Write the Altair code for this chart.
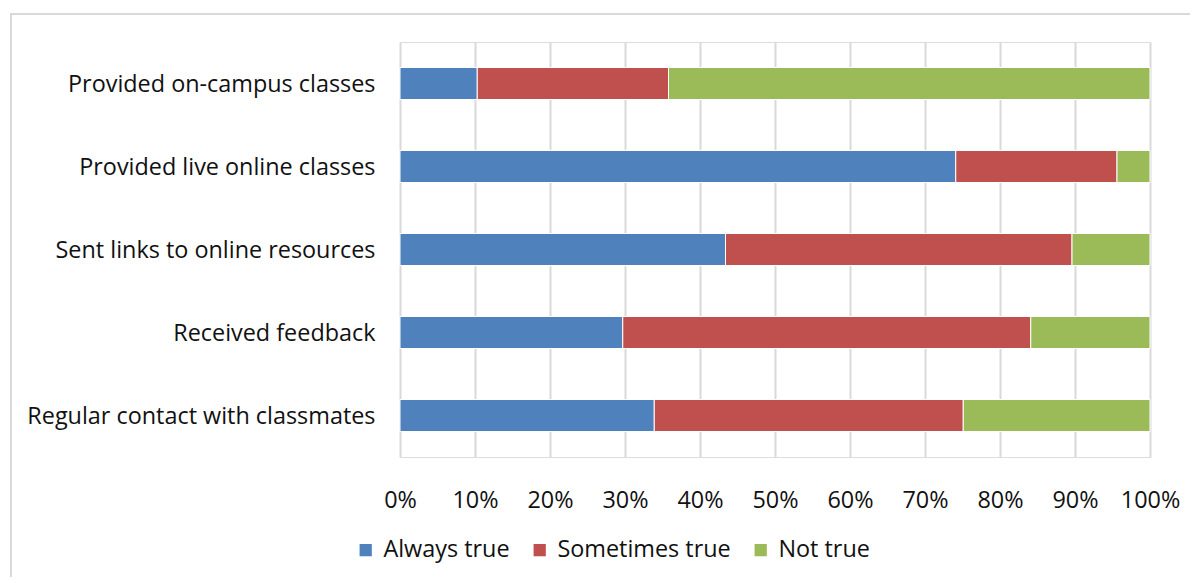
import altair as alt
import pandas as pd

categories = [
    "Provided on-campus classes",
    "Provided live online classes",
    "Sent links to online resources",
    "Received feedback",
    "Regular contact with classmates",
]
series = ["Always true", "Sometimes true", "Not true"]
always_true = [10.3, 74.1, 43.4, 29.7, 33.9]
sometimes_true = [25.5, 21.5, 46.2, 54.4, 41.2]
not_true = [64.2, 4.4, 10.4, 15.9, 24.9]
colors = ["#4F81BD", "#C0504D", "#9BBB59"]

rows = []
for i, c in enumerate(categories):
    for j, (s, vals) in enumerate(zip(series, [always_true, sometimes_true, not_true])):
        rows.append({"category": c, "series": s, "value": vals[i] / 100.0, "order": j})
df = pd.DataFrame(rows)

FONT = "Open Sans"
FS = 23.4

bars = alt.Chart(df).mark_bar(size=32, stroke="white", strokeWidth=1).encode(
    y=alt.Y("category:N", sort=categories, title=None,
            axis=alt.Axis(domain=False, ticks=False, grid=False, labelFontSize=FS,
                          labelFont=FONT, labelColor="#111111", labelPadding=25,
                          labelLimit=400, labelBaseline="middle", labelOffset=1)),
    x=alt.X("value:Q", stack="zero", title=None,
            scale=alt.Scale(domain=[0, 1], nice=False),
            axis=alt.Axis(format=".0%", values=[i / 10 for i in range(11)],
                          domain=False, ticks=False, grid=True, gridColor="#d9d9d9",
                          gridWidth=2, labelFontSize=FS, labelFont=FONT,
                          labelColor="#111111", labelPadding=32,
                          labelFlush=False, labelOverlap=False)),
    color=alt.Color("series:N", sort=series,
                    scale=alt.Scale(domain=series, range=colors),
                    legend=alt.Legend(title=None, orient="none", direction="horizontal",
                                      legendX=-46, legendY=496, symbolType="square",
                                      symbolSize=150, symbolStrokeWidth=0,
                                      labelFontSize=FS, labelFont=FONT,
                                      labelColor="#111111", labelOffset=6,
                                      columnPadding=18, labelLimit=300)),
    order=alt.Order("order:Q"),
)

border = alt.Chart(pd.DataFrame({"a": [0]})).mark_rect(
    fill=None, stroke="#d9d9d9", strokeWidth=2
).encode(
    x=alt.value(-389), x2=alt.value(1000), y=alt.value(-28), y2=alt.value(700)
)

chart = alt.layer(border, bars).properties(
    width=750, height=415,
    autosize=alt.AutoSizeParams(type="none"),
    padding={"left": 392, "top": 34, "right": 40, "bottom": 120},
).configure_view(stroke=None).configure(background="white")

chart.save("out.html", embed_options={"renderer": "svg", "actions": False})
